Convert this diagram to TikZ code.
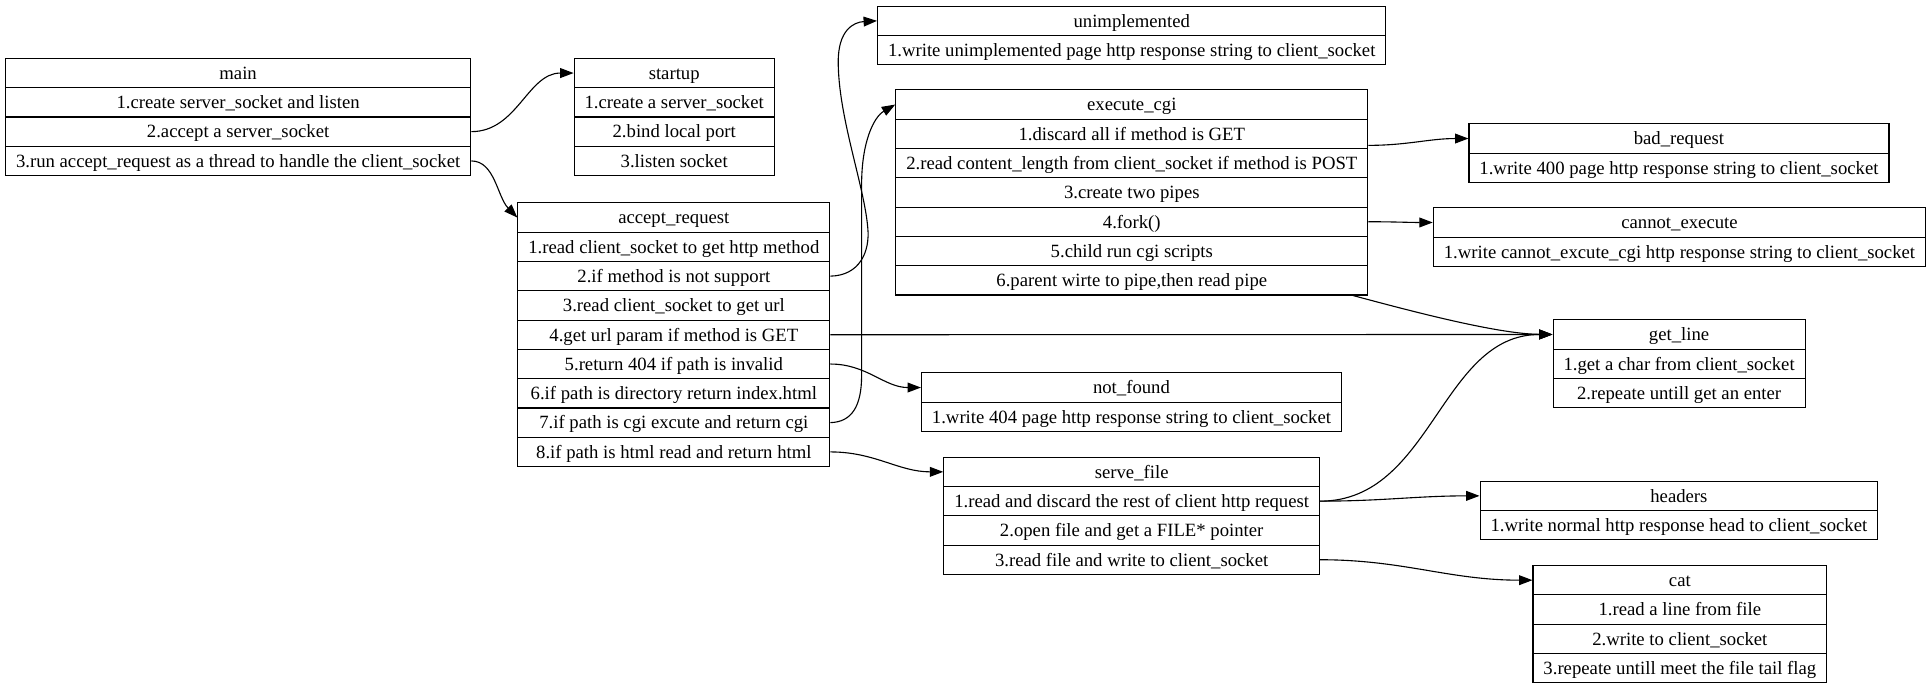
\documentclass[tikz,border=0pt]{standalone}
\usepackage{fontspec}
\setmainfont{Liberation Serif}
\usetikzlibrary{arrows.meta}

\tikzset{
  field/.style={draw, line width=.9pt, anchor=north west, minimum height=23.8pt,
    inner xsep=2pt, inner ysep=0pt, text height=12.2pt, text depth=2pt,
    font=\fontsize{15.2pt}{18pt}\selectfont},
  call/.style={line width=.9pt, -{Triangle[length=10.9pt,width=8pt]}},
}

% one record: name, left, top, width, fields
\newcommand{\record}[5]{%
  \foreach \txt [count=\k from 0] in {#5}
    \node [field, minimum width=#4pt] (#1-\k) at (#2,#3+\k*23.8) {\txt};
}

\begin{document}
\begin{tikzpicture}[x=1pt,y=-1pt]

\useasboundingbox (0,0) rectangle (1568,558.96);

\record{main}{4}{47}{378}{main,
  1.create server\_socket and listen,
  2.accept a server\_socket,
  3.run accept\_request as a thread to handle the client\_socket}
\record{startup}{466}{47}{162.6}{startup,
  1.create a server\_socket,
  2.bind local port,
  3.listen socket}
\record{req}{420.3}{164.4}{253.4}{accept\_request,
  1.read client\_socket to get http method,
  2.if method is not support,
  3.read client\_socket to get url,
  4.get url param if method is GET,
  5.return 404 if path is invalid,
  6.if path is directory return index.html,
  7.if path is cgi excute and return cgi,
  8.if path is html read and return html}
\record{unimpl}{712.5}{4.6}{413}{unimplemented,
  1.write unimplemented page http response string to client\_socket}
\record{cgi}{727.3}{72.6}{383.5}{execute\_cgi,
  1.discard all if method is GET,
  2.read content\_length from client\_socket if method is POST,
  3.create two pipes,
  4.fork(),
  5.child run cgi scripts,
  {6.parent wirte to pipe,then read pipe}}
\record{badreq}{1193}{100.2}{341.2}{bad\_request,
  1.write 400 page http response string to client\_socket}
\record{cannot}{1164}{168.4}{400}{cannot\_execute,
  1.write cannot\_excute\_cgi http response string to client\_socket}
\record{getline}{1261.3}{259.4}{204.8}{get\_line,
  1.get a char from client\_socket,
  2.repeate untill get an enter}
\record{notfound}{748.2}{302.5}{341.2}{not\_found,
  1.write 404 page http response string to client\_socket}
\record{serve}{766.3}{371}{305.3}{serve\_file,
  1.read and discard the rest of client http request,
  2.open file and get a FILE* pointer,
  3.read file and write to client\_socket}
\record{headers}{1202}{390.5}{323.1}{headers,
  1.write normal http response head to client\_socket}
\record{cat}{1245}{459}{238.6}{cat,
  1.read a line from file,
  2.write to client\_socket,
  3.repeate untill meet the file tail flag}

\draw [call] (main-2.east) to [out=0,in=180] (startup-0.west);
\draw [call] (main-3.east) .. controls (402,130.8) and (404,160) .. (req-0.west);

\draw [call] (req-2.east) .. controls (698,223.9) and (707,205) .. (705,185)
  .. controls (702,150) and (681,95) .. (681,50)
  .. controls (681,25) and (693,18) .. (unimpl-0.west);
\draw [call] (req-4.east) -- (getline-0.west);
\draw [call] (req-5.east) to [out=0,in=180] (notfound-0.west);
\draw [call] (req-7.east) .. controls (692,342.9) and (700,330) .. (700,305)
  -- (700,150) .. controls (700,115) and (710,95) .. (cgi-0.west);
\draw [call] (req-8.east) to [out=0,in=180] (serve-0.west);

\draw [call] ([yshift=3pt]cgi-1.south east) to [out=0,in=180] (badreq-0.west);
\draw [call] (cgi-4.east) to [out=0,in=180] (cannot-0.west);
\draw [call] ([xshift=-12.5pt]cgi-6.south east) .. controls (1140,251) and (1215,271.3) .. (getline-0.west);

\draw [call] (serve-1.east) to [out=0,in=180] (getline-0.west);
\draw [call] (serve-1.east) to [out=0,in=180] (headers-0.west);
\draw [call] (serve-3.east) to [out=0,in=180] (cat-0.west);

\end{tikzpicture}
\end{document}
